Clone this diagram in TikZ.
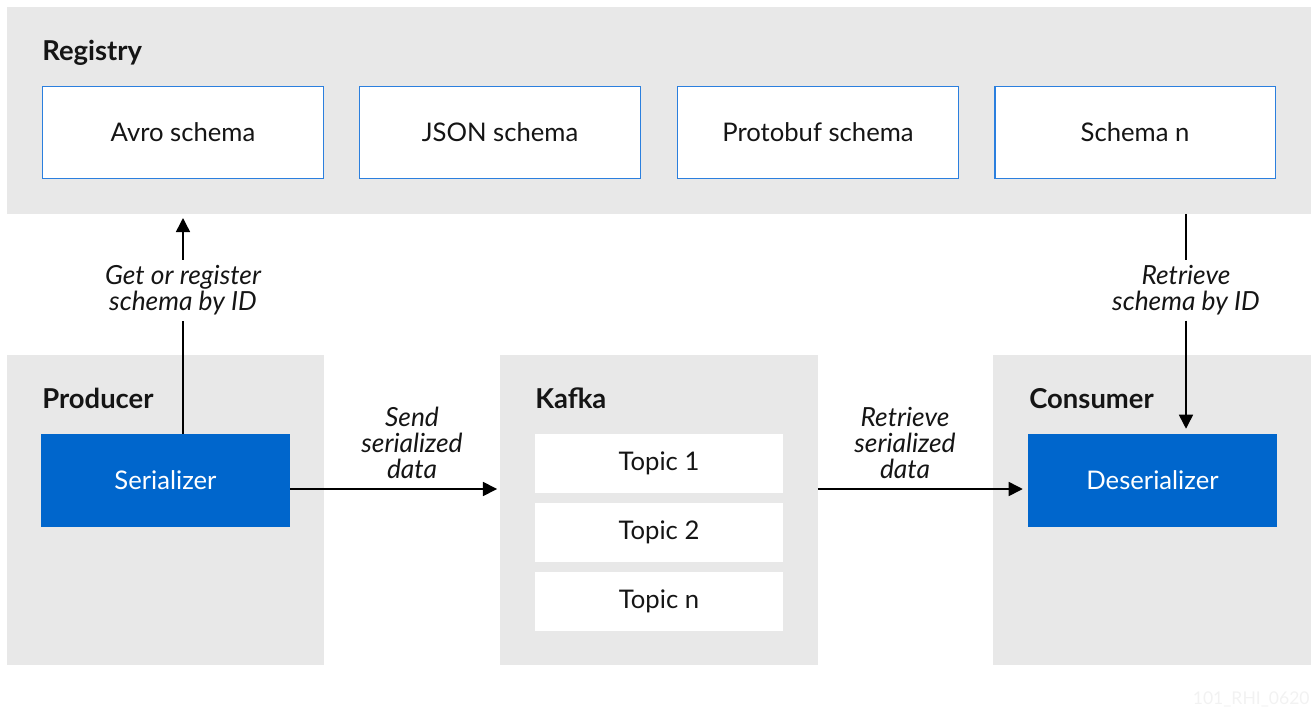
\documentclass[tikz,border=0pt]{standalone}
\usepackage{fontspec}
\setmainfont{Lato}
\usepackage{xcolor}
\usepackage{tikz}
\usetikzlibrary{arrows.meta}
\definecolor{panelgray}{HTML}{E8E8E8}
\definecolor{boxblue}{HTML}{0066CC}
\definecolor{edgeblue}{HTML}{2B7FDE}
\definecolor{inkblack}{HTML}{151515}
\definecolor{markgray}{HTML}{F2F2F2}

\begin{document}
\begin{tikzpicture}[x=0.02cm, y=-0.02cm,
    font=\fontsize{14.6}{15}\selectfont, text=inkblack,
    panel/.style={rectangle, fill=panelgray, inner sep=0pt, outer sep=0pt},
    schema/.style={rectangle, draw=edgeblue, line width=1.1pt, fill=white, minimum width=5.62cm, minimum height=1.84cm, inner sep=0pt},
    coder/.style={rectangle, fill=boxblue, text=white, minimum width=4.98cm, minimum height=1.86cm, inner sep=0pt},
    topic/.style={rectangle, fill=white, minimum width=4.96cm, minimum height=1.18cm, inner sep=0pt},
    title/.style={anchor=base west, inner sep=0pt, font=\fontsize{15.6}{16}\selectfont\bfseries},
    note/.style={align=center, inner sep=3pt, font=\fontsize{15}{14.8}\selectfont\itshape},
    wire/.style={line width=0.85pt},
    arr/.style={wire, -{Triangle[length=8pt,width=8pt]}}]
            \useasboundingbox (0,0) rectangle (1313,707);

            % Nodes
            \node[panel, minimum width=26.08cm, minimum height=4.14cm] (registry) at (659,110.5) {};
            \node[panel, minimum width=6.34cm, minimum height=6.2cm] (producer) at (165.5,510) {};
            \node[panel, minimum width=6.36cm, minimum height=6.2cm] (kafka) at (659,510) {};
            \node[panel, minimum width=6.36cm, minimum height=6.2cm] (consumer) at (1152,510) {};

            \node[title] (regtitle) at (42,60) {Registry};
            \node[title] (prodtitle) at (42,408) {Producer};
            \node[title] (kafkatitle) at (535,408) {Kafka};
            \node[title] (constitle) at (1029,408) {Consumer};

            \node[schema] (avro) at (183,132.5) {Avro schema};
            \node[schema] (json) at (500,132.5) {JSON schema};
            \node[schema] (proto) at (818,132.5) {Protobuf schema};
            \node[schema] (schn) at (1135,132.5) {Schema n};

            \node[coder] (ser) at (165.5,480.5) {Serializer};
            \node[coder] (deser) at (1152.5,480.5) {Deserializer};

            \node[topic] (t1) at (659,463.5) {Topic 1};
            \node[topic] (t2) at (659,532.5) {Topic 2};
            \node[topic] (tn) at (659,601.5) {Topic n};

            \node[note] (getlbl) at (183,290) {Get or register\\schema by ID};
            \node[note] (retlbl) at (1186,290) {Retrieve\\schema by ID};
            \node[note] (sendlbl) at (412,443) {Send\\serialized\\data};
            \node[note] (pulllbl) at (905,443) {Retrieve\\serialized\\data};

            \node[anchor=base east, inner sep=0pt, text=markgray, font=\fontsize{10}{10}\selectfont] (mark) at (1310,704) {101\_RHI\_0620};

            \coordinate (getend) at (183,218);
            \coordinate (dataline) at (0,489);

            % Edges
            \draw[wire] (ser.north -| getlbl) -- (getlbl.south);
            \draw[arr] (getlbl.north) -- (getend);
            \draw[wire] (registry.south -| retlbl) -- (retlbl.north);
            \draw[arr, shorten >=2.8pt] (retlbl.south) -- (deser.north -| retlbl);
            \draw[arr, shorten >=1.7pt] (ser.east |- dataline) -- (kafka.west |- dataline);
            \draw[arr, shorten >=2.8pt] (kafka.east |- dataline) -- (deser.west |- dataline);
        \end{tikzpicture}
\end{document}
